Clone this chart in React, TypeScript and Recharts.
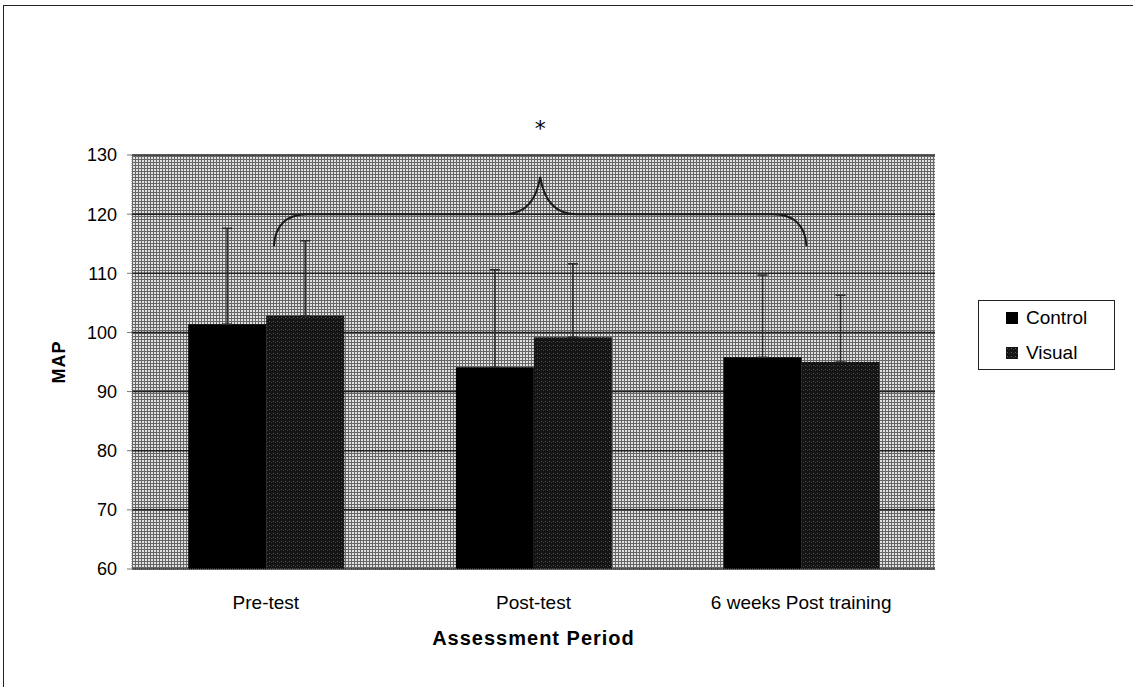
import React from "react";
import {
  BarChart,
  Bar,
  XAxis,
  YAxis,
  CartesianGrid,
  ErrorBar,
  Legend,
  ReferenceArea,
} from "recharts";

const categories = ["Pre-test", "Post-test", "6 weeks Post training"];
const controlMeans = [101.4, 94.1, 95.8];
const visualMeans = [102.8, 99.2, 95.0];
const controlSD = [16.2, 16.5, 13.9];
const visualSD = [12.7, 12.4, 11.3];
const yTicks = [60, 70, 80, 90, 100, 110, 120, 130];

// brace ends, in category units measured from the left edge of the axis
const braceFrom = 0.53;
const braceTo = 2.52;
const braceLow = 114.6;
const braceMid = 120;
const braceHigh = 126.3;

const data = categories.map((name, i) => ({
  name,
  control: controlMeans[i],
  visual: visualMeans[i],
  controlErr: [0, controlSD[i]],
  visualErr: [0, visualSD[i]],
}));

const font = '"Liberation Sans", Arial, sans-serif';

const Brace = (props: any) => {
  const { x, y, width, height } = props;
  const band = width / categories.length;
  const x0 = x + band * braceFrom;
  const x1 = x + band * braceTo;
  const xc = (x0 + x1) / 2;
  const yt = y;
  const yb = y + height;
  const ym = y + (height * (braceHigh - braceMid)) / (braceHigh - braceLow);
  const d = [
    `M ${x0} ${yb}`,
    `Q ${x0 + 2} ${ym} ${x0 + 34} ${ym}`,
    `L ${xc - 36} ${ym}`,
    `Q ${xc - 6} ${ym} ${xc} ${yt}`,
    `Q ${xc + 6} ${ym} ${xc + 36} ${ym}`,
    `L ${x1 - 34} ${ym}`,
    `Q ${x1 - 2} ${ym} ${x1} ${yb}`,
  ].join(" ");
  return (
    <g>
      <path d={d} fill="none" stroke="#1a1a1a" strokeWidth={2} />
      <text
        x={xc}
        y={yt - 41}
        textAnchor="middle"
        fontFamily='"DejaVu Sans", sans-serif'
        fontSize={22}
        fill="#000"
      >
        *
      </text>
    </g>
  );
};

const LegendBox = (props: any) => {
  const { payload } = props;
  return (
    <div
      style={{
        boxSizing: "border-box",
        width: 137,
        height: 70,
        border: "1px solid #222",
        background: "#fff",
        fontFamily: font,
        fontSize: 19,
        paddingTop: 6,
      }}
    >
      {(payload || []).map((p: any) => (
        <div
          key={p.value}
          style={{
            display: "flex",
            alignItems: "center",
            height: 22,
            marginBottom: 13,
            paddingLeft: 27,
            color: "#000",
          }}
        >
          <svg width={12} height={12} style={{ marginRight: 8 }}>
            <rect width={12} height={12} fill={p.color} />
          </svg>
          {p.value}
        </div>
      ))}
    </div>
  );
};

export default function App() {
  return (
    <div
      style={{
        position: "absolute",
        left: 0,
        top: 0,
        width: 1133,
        height: 687,
        background: "#fff",
        overflow: "hidden",
      }}
    >
      <div
        style={{
          position: "absolute",
          left: 3,
          top: 5,
          width: 1140,
          height: 700,
          borderTop: "1px solid #222",
          borderLeft: "1px solid #222",
        }}
      />
      <BarChart
        width={1133}
        height={687}
        data={data}
        margin={{ top: 155, right: 61, bottom: 38, left: 52 }}
        barCategoryGap="21%"
        barGap={0}
      >
        <defs>
          <pattern id="bgDots" width="3" height="3" patternUnits="userSpaceOnUse">
            <rect width="3" height="3" fill="#e0e0e0" />
            <rect width="3" height="1" fill="#666" />
            <rect width="1" height="3" fill="#666" />
          </pattern>
          <pattern id="visualDots" width="4" height="4" patternUnits="userSpaceOnUse">
            <rect width="4" height="4" fill="#141414" />
            <rect x="1" y="1" width="1" height="1" fill="#5a5a5a" />
            <rect x="3" y="2" width="1" height="1" fill="#3a3a3a" />
          </pattern>
        </defs>
        <CartesianGrid
          vertical={false}
          stroke="#222"
          strokeWidth={1.5}
          fill="url(#bgDots)"
          fillOpacity={1}
        />
        <XAxis
          dataKey="name"
          tickLine={false}
          axisLine={{ stroke: "#777", strokeDasharray: "1 1" }}
          tick={{ fill: "#000", fontSize: 19, fontFamily: font }}
          tickMargin={21}
          height={80}
          label={{
            value: "Assessment Period",
            position: "insideBottom",
            offset: 4,
            style: {
              fontFamily: font,
              fontSize: 20,
              fontWeight: "bold",
              letterSpacing: 1,
              fill: "#000",
            },
          }}
        />
        <YAxis
          domain={[60, 130]}
          ticks={yTicks}
          interval={0}
          width={80}
          tickSize={5}
          tickMargin={10}
          tickLine={{ stroke: "#777" }}
          axisLine={{ stroke: "#777", strokeDasharray: "1 1" }}
          tick={{ fill: "#000", fontSize: 18, fontFamily: font }}
          label={{
            value: "MAP",
            angle: -90,
            position: "insideLeft",
            offset: 7,
            style: {
              textAnchor: "middle",
              fontFamily: font,
              fontSize: 18,
              fontWeight: "bold",
              letterSpacing: 1,
              fill: "#000",
            },
          }}
        />
        <Legend
          layout="vertical"
          align="right"
          verticalAlign="middle"
          content={<LegendBox />}
          wrapperStyle={{ left: 978, top: 300, width: 137, height: 70 }}
        />
        <Bar dataKey="control" name="Control" fill="#000" legendType="square" isAnimationActive={false}>
          <ErrorBar
            dataKey="controlErr"
            direction="y"
            width={5}
            stroke="#2a2a2a"
            strokeWidth={1.5}
            isAnimationActive={false}
          />
        </Bar>
        <Bar
          dataKey="visual"
          name="Visual"
          fill="url(#visualDots)"
          legendType="square"
          isAnimationActive={false}
        >
          <ErrorBar
            dataKey="visualErr"
            direction="y"
            width={5}
            stroke="#2a2a2a"
            strokeWidth={1.5}
            isAnimationActive={false}
          />
        </Bar>
        <ReferenceArea
          x1={categories[0]}
          x2={categories[categories.length - 1]}
          y1={braceLow}
          y2={braceHigh}
          shape={<Brace />}
          ifOverflow="visible"
        />
      </BarChart>
    </div>
  );
}
